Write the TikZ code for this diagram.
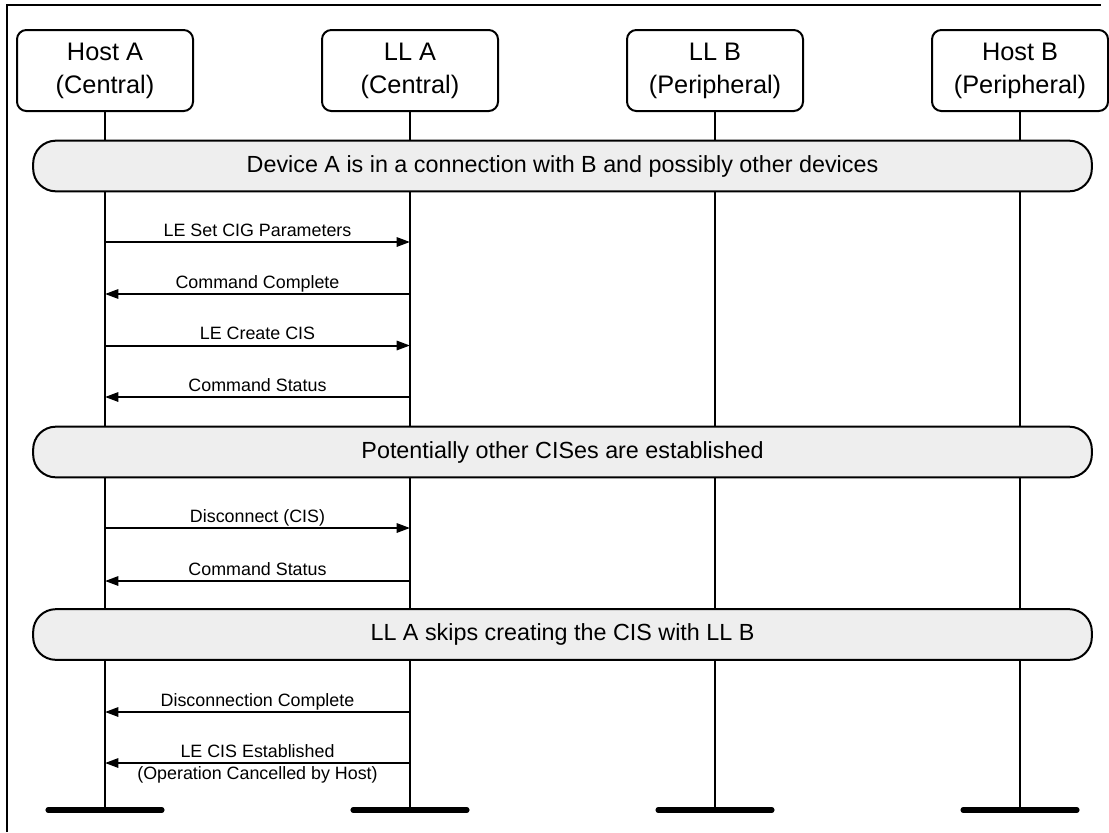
\documentclass[tikz,border=0pt]{standalone}
\usepackage{fontspec}
\setmainfont{Liberation Sans}
\usetikzlibrary{arrows.meta}
\definecolor{bannerfill}{HTML}{EEEEEE}
\tikzset{
  party/.style={draw, line width=1.5pt, rounded corners=7pt, fill=white,
    minimum width=132pt, minimum height=60.75pt, align=center, inner sep=0pt,
    font=\fontsize{19}{24.75}\selectfont},
  banner/.style={draw, line width=1.5pt, rounded corners=17pt, fill=bannerfill,
    minimum width=794pt, minimum height=38pt, inner sep=0pt,
    font=\fontsize{17.5}{21}\selectfont},
  lifeline/.style={line width=1.6pt},
  endbar/.style={line width=3.8pt, line cap=round},
  msg/.style={line width=1.5pt, -{Triangle[length=10pt,width=7pt]}},
  msglabel/.style={font=\fontsize{13.4}{16}\selectfont, anchor=base, inner sep=0pt},
  frameline/.style={line width=1.6pt}
}
\begin{document}
\begin{tikzpicture}[x=0.75pt,y=-0.75pt]
\useasboundingbox (0,0) rectangle (1109,832);
% frame
\coordinate (f1) at (7,832);
\coordinate (f2) at (7,5);
\coordinate (f3) at (1101,5);
\draw[frameline] (f1) -- (f2) -- (f3);

% parties
\node[party] (hA) at (105,70.5) {Host A\\(Central)};
\node[party] (lA) at (410,70.5) {LL A\\(Central)};
\node[party] (lB) at (715,70.5) {LL B\\(Peripheral)};
\node[party] (hB) at (1020,70.5) {Host B\\(Peripheral)};

% lifeline ends
\foreach \n/\x in {hA/105,lA/410,lB/715,hB/1020}{
  \coordinate (\n end) at (\x,810);
  \coordinate (\n barL) at (\x-57,810);
  \coordinate (\n barR) at (\x+57,810);
}
\foreach \n in {hA,lA,lB,hB}{
  \draw[lifeline] (\n.south) -- (\n end);
  \draw[endbar] (\n barL) -- (\n barR);
}

% banners
\node[banner] (b1) at (562.5,166) {Device A is in a connection with B and possibly other devices};
\node[banner] (b2) at (562.5,452) {Potentially other CISes are established};
\node[banner] (b3) at (562.5,634.5) {LL A skips creating the CIS with LL B};

% message anchor points
\foreach \i/\y in {1/242,2/294,3/345.5,4/397,5/528,6/581,7/712,8/763}{
  \coordinate (m\i a) at (105,\y);
  \coordinate (m\i b) at (410,\y);
}

\draw[msg] (m1a) -- (m1b) node[msglabel, midway, yshift=4.5pt] {LE Set CIG Parameters};
\draw[msg] (m2b) -- (m2a) node[msglabel, midway, yshift=4.5pt] {Command Complete};
\draw[msg] (m3a) -- (m3b) node[msglabel, midway, yshift=4.5pt] {LE Create CIS};
\draw[msg] (m4b) -- (m4a) node[msglabel, midway, yshift=4.5pt] {Command Status};
\draw[msg] (m5a) -- (m5b) node[msglabel, midway, yshift=4.5pt] {Disconnect (CIS)};
\draw[msg] (m6b) -- (m6a) node[msglabel, midway, yshift=4.5pt] {Command Status};
\draw[msg] (m7b) -- (m7a) node[msglabel, midway, yshift=4.5pt] {Disconnection Complete};
\draw[msg] (m8b) -- (m8a) node[msglabel, midway, yshift=4.5pt] {LE CIS Established}
                          node[msglabel, midway, yshift=-12pt] {(Operation Cancelled by Host)};
\end{tikzpicture}
\end{document}
